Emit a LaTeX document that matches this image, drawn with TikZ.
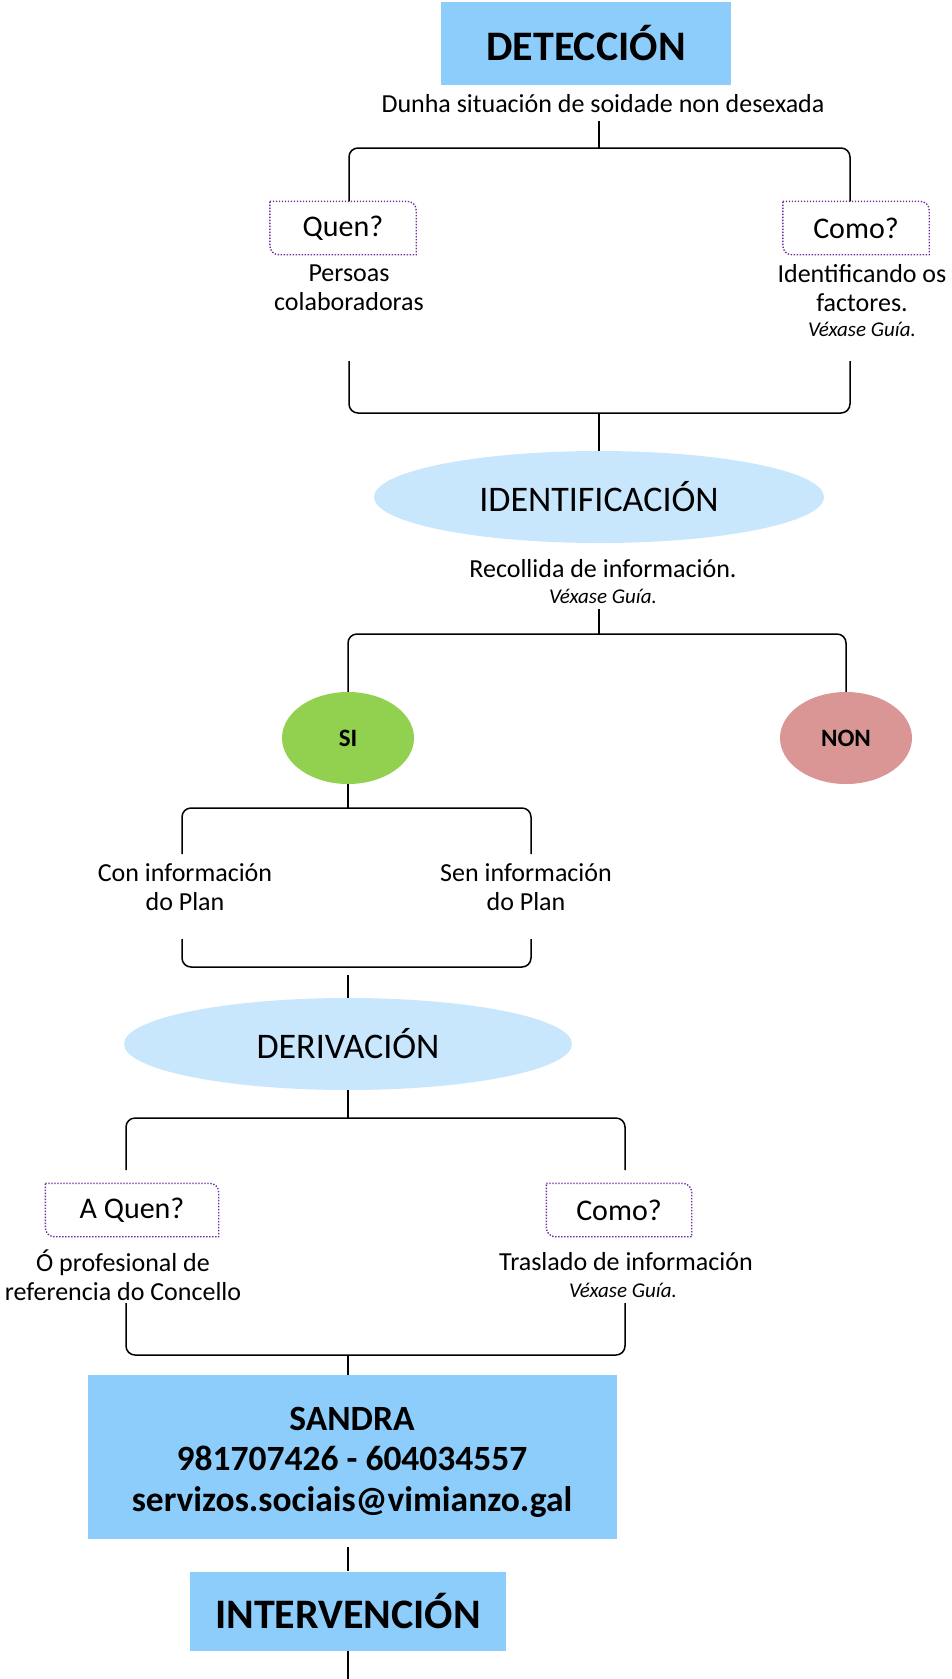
\documentclass[tikz,border=0pt]{standalone}
\usepackage{fontspec}
\setmainfont{Carlito}
\usetikzlibrary{shapes.geometric}

\definecolor{boxblue}{RGB}{141,205,252}
\definecolor{ovalblue}{RGB}{200,230,252}
\definecolor{sigreen}{RGB}{146,208,80}
\definecolor{nonred}{RGB}{218,150,148}
\definecolor{askpurple}{RGB}{112,48,160}

\tikzset{
  bar/.style={line width=1.5pt, rounded corners=9pt},
  stem/.style={line width=1.5pt},
  title/.style={fill=boxblue, inner sep=0pt, font=\fontsize{42}{50}\selectfont\bfseries},
  oval/.style={ellipse, fill=ovalblue, minimum width=450pt, minimum height=92pt, inner sep=0pt,
    font=\fontsize{36}{43}\selectfont},
  answer/.style={ellipse, minimum width=132pt, minimum height=92pt, inner sep=0pt,
    font=\fontsize{25}{30}\selectfont\bfseries},
  ask/.style={minimum width=146pt, minimum height=53pt, inner sep=0pt, font=\fontsize{30}{36}\selectfont},
  txt/.style={align=center, inner sep=0pt, font=\fontsize{26}{29}\selectfont},
  see/.style={inner sep=0pt, font=\fontsize{21}{25}\selectfont\itshape},
}

\newcommand{\askframe}[1]{%
  \draw[askpurple, line width=1.4pt, dash pattern=on 1.4pt off 1.6pt]
    (#1.north west) -- ([xshift=-9pt]#1.north east)
    arc[start angle=90, end angle=0, radius=9pt] -- (#1.south east)
    -- ([xshift=9pt]#1.south west)
    arc[start angle=270, end angle=180, radius=9pt] -- cycle;}

\begin{document}
\begin{tikzpicture}[x=1pt, y=-1pt]
  \useasboundingbox (0,0) rectangle (951,1679);

  \node[title, minimum width=290pt, minimum height=83pt] (det) at (586,43) {DETECCIÓN};
  \node[txt] (sit) at (603,104) {Dunha situación de soidade non desexada};
  \coordinate (k1) at (599,121);
  \coordinate (j1) at (599,148);
  \coordinate (l1) at (349,148);
  \coordinate (r1) at (850,148);
  \node[ask] (quen) at (343,228) {Quen?};
  \node[ask] (como) at (856,228) {Como?};
  \askframe{quen}
  \askframe{como}
  \node[txt] (quentxt) at (349,288) {Persoas\\colaboradoras};
  \node[txt] (comotxt) at (862,288) {Identificando os\\factores.};
  \node[see] (comosee) at (862,329) {Véxase Guía.};
  \draw[stem] (k1) -- (j1);
  \draw[bar] (quen.north -| l1) |- (j1) -| (como.north -| r1);

  \coordinate (l2) at (349,361);
  \coordinate (r2) at (850,361);
  \coordinate (j2) at (599,413);
  \node[oval] (ident) at (599,497) {IDENTIFICACIÓN};
  \draw[bar] (l2) |- (j2) -| (r2);
  \draw[stem] (j2) -- (ident.north);

  \node[txt] (rec) at (603,569) {Recollida de información.};
  \node[see] (recsee) at (603,596) {Véxase Guía.};
  \coordinate (k3) at (599,609);
  \coordinate (j3) at (599,634);
  \node[answer, fill=sigreen] (si) at (348,738) {SI};
  \node[answer, fill=nonred] (non) at (846,738) {NON};
  \draw[stem] (k3) -- (j3);
  \draw[bar] (si.north) |- (j3) -| (non.north);

  \coordinate (j4) at (348,808);
  \coordinate (l4) at (182,854);
  \coordinate (r4) at (531,854);
  \node[txt] (con) at (185,887) {Con información\\do Plan};
  \node[txt] (sen) at (526,887) {Sen información\\do Plan};
  \draw[stem] (si.south) -- (j4);
  \draw[bar] (l4) |- (j4) -| (r4);

  \coordinate (l5) at (182,939);
  \coordinate (r5) at (531,939);
  \coordinate (j5) at (348,967);
  \coordinate (k5) at (348,975);
  \node[oval, minimum width=448pt] (deriv) at (348,1044) {DERIVACIÓN};
  \draw[bar] (l5) |- (j5) -| (r5);
  \draw[stem] (k5) -- (deriv.north);

  \coordinate (j6) at (348,1118);
  \coordinate (l6) at (126,1170);
  \coordinate (r6) at (625,1170);
  \draw[stem] (deriv.south) -- (j6);
  \draw[bar] (l6) |- (j6) -| (r6);
  \node[ask, minimum width=173pt] (aquen) at (132,1210) {A Quen?};
  \node[ask, minimum width=145pt] (como2) at (619,1210) {Como?};
  \askframe{aquen}
  \askframe{como2}
  \node[txt] (aquentxt) at (123,1275) {Ó profesional de\\referencia do Concello};
  \node[txt] (como2txt) at (626,1262) {Traslado de información};
  \node[see] (como2see) at (623,1290) {Véxase Guía.};

  \coordinate (l7) at (126,1303);
  \coordinate (r7) at (625,1303);
  \coordinate (j7) at (348,1355);
  \node[title, minimum width=529pt, minimum height=164pt] (sandra) at (352,1457) {};
  \node[align=center, inner sep=0pt, font=\fontsize{35.5}{40.5}\selectfont\bfseries]
    (sandratxt) at (352,1462) {SANDRA\\981707426 - 604034557\\servizos.sociais@vimianzo.gal};
  \draw[bar] (l7) |- (j7) -| (r7);
  \draw[stem] (j7) -- (sandra.north -| j7);

  \coordinate (k8) at (348,1547);
  \coordinate (fin) at (348,1679);
  \node[title, minimum width=316pt, minimum height=79pt] (interv) at (348,1611) {INTERVENCIÓN};
  \draw[stem] (k8) -- (interv.north);
  \draw[stem] (interv.south) -- (fin);
\end{tikzpicture}
\end{document}
